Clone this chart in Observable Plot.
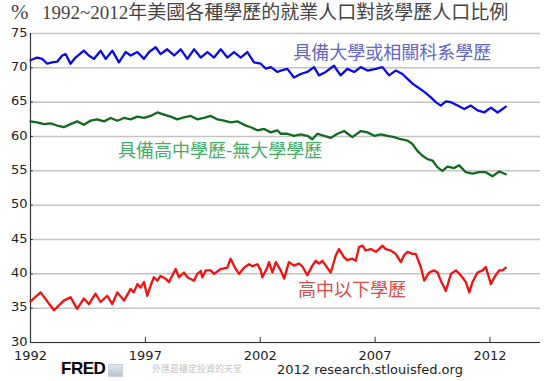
<!DOCTYPE html>
<html>
<head>
<meta charset="utf-8">
<script src="https://cdn.jsdelivr.net/npm/d3@7"></script>
<script src="https://cdn.jsdelivr.net/npm/@observablehq/plot@0.6"></script>
<style>
  body { margin: 0; background: #fff; }
  #wrap { position: relative; width: 554px; height: 381px; background: #fff; overflow: hidden; }
  .abs { position: absolute; white-space: nowrap; }
</style>
</head>
<body>
<div id="wrap">
  <div id="chart"></div>
  <div class="abs" style="left:11px;top:0px;font:21px 'Liberation Serif','Noto Sans CJK TC';color:#444;">%</div>
  <div class="abs" id="title" style="left:42px;top:0px;font:19px 'Liberation Serif','Noto Sans CJK TC';color:#444;line-height:26px;">1992~2012年美國各種學歷的就業人口對該學歷人口比例</div>
  <div class="abs" style="left:61px;top:359px;font:900 17px 'Liberation Sans','DejaVu Sans';color:#000;letter-spacing:-0.5px;">FRED</div>
  <div class="abs" style="left:108px;top:364px;width:13px;height:11px;background:linear-gradient(#dfe6ee,#b9c4cf);border:1px solid #c8d0d8;"></div>
  <div class="abs" style="left:152px;top:362px;font:9px 'Noto Sans CJK TC';color:#c4c4c4;">外匯是穩定投資的天堂</div>
  <div class="abs" style="left:277px;top:362px;font:13px 'DejaVu Sans';color:#222;">2012 research.stlouisfed.org</div>
</div>
<script>
// ---- data ----
const yTicks = [30, 35, 40, 45, 50, 55, 60, 65, 70, 75];
const xTicks = [1992, 1997, 2002, 2007, 2012];

const collegeYears = [1992.00,1992.29,1992.51,1992.73,1992.94,1993.16,1993.38,1993.53,1993.74,1993.96,1994.32,1994.54,1994.76,1995.05,1995.27,1995.56,1995.85,1996.14,1996.36,1996.65,1996.94,1997.16,1997.45,1997.66,1997.95,1998.25,1998.54,1998.83,1999.12,1999.41,1999.70,1999.99,2000.28,2000.57,2000.86,2001.15,2001.44,2001.73,2002.02,2002.24,2002.46,2002.75,2002.89,2003.18,2003.47,2003.76,2004.05,2004.34,2004.56,2004.85,2005.21,2005.50,2005.79,2006.09,2006.38,2006.67,2007.03,2007.32,2007.61,2007.90,2008.19,2008.41,2008.63,2008.84,2009.14,2009.43,2009.64,2009.86,2010.08,2010.30,2010.59,2010.88,2011.17,2011.46,2011.75,2012.04,2012.33,2012.55,2012.69];
const collegeValues = [71.1,71.5,71.3,70.6,70.8,70.9,71.8,72.0,70.6,71.5,72.5,71.8,71.3,72.5,71.3,72.5,70.8,72.3,71.8,72.3,71.3,72.3,73.0,72.0,72.7,71.8,72.7,71.3,72.7,71.5,72.3,71.5,72.7,71.5,72.3,71.5,72.3,70.8,70.6,69.9,70.1,69.4,69.6,69.85,68.6,69.1,69.4,70.1,68.9,69.4,70.3,68.9,69.85,69.4,70.1,69.6,69.85,70.1,68.9,69.6,69.1,68.4,67.7,67.2,66.5,65.7,65.0,64.5,65.1,65.0,64.5,64.0,64.5,63.8,63.5,64.2,63.5,64.0,64.35];

const highSchoolYears = [1992.00,1992.29,1992.58,1992.87,1993.16,1993.45,1993.74,1994.03,1994.32,1994.61,1994.90,1995.20,1995.49,1995.78,1996.07,1996.36,1996.65,1996.94,1997.23,1997.52,1997.81,1998.10,1998.39,1998.68,1998.97,1999.26,1999.55,1999.84,2000.13,2000.42,2000.71,2001.01,2001.30,2001.59,2001.88,2002.17,2002.46,2002.75,2002.89,2003.18,2003.47,2003.76,2004.05,2004.27,2004.49,2004.78,2005.07,2005.36,2005.65,2006.01,2006.38,2006.67,2006.96,2007.25,2007.54,2007.83,2008.12,2008.41,2008.63,2008.84,2009.06,2009.28,2009.50,2009.72,2009.93,2010.15,2010.44,2010.66,2010.95,2011.24,2011.53,2011.82,2012.11,2012.40,2012.69];
const highSchoolValues = [62.2,62.05,61.8,61.9,61.6,61.35,61.8,62.2,61.7,62.3,62.5,62.2,62.7,62.3,62.7,62.5,62.9,62.7,63.0,63.5,63.2,62.9,62.5,62.8,63.0,62.5,62.7,63.0,62.5,62.3,62.05,62.2,61.7,61.35,60.9,61.1,60.6,60.9,60.4,60.4,60.1,60.3,60.1,59.6,60.4,60.1,59.8,60.4,60.8,59.9,60.8,60.6,60.1,60.3,60.1,59.9,59.6,59.4,58.9,57.9,57.2,56.7,56.5,55.5,55.0,55.6,55.4,55.8,54.8,54.6,54.8,54.8,54.2,54.9,54.5];

const lessYears = [1992.00,1992.44,1993.02,1993.45,1993.74,1994.03,1994.32,1994.54,1994.83,1995.05,1995.34,1995.56,1995.78,1996.07,1996.36,1996.50,1996.65,1996.79,1996.94,1997.08,1997.23,1997.37,1997.52,1997.66,1997.88,1998.03,1998.32,1998.46,1998.68,1998.83,1999.12,1999.26,1999.41,1999.48,1999.63,1999.84,1999.99,2000.28,2000.57,2000.71,2000.93,2001.08,2001.30,2001.51,2001.66,2001.88,2002.02,2002.09,2002.31,2002.38,2002.53,2002.68,2002.89,2003.04,2003.25,2003.47,2003.69,2003.83,2004.05,2004.27,2004.42,2004.56,2004.71,2004.85,2005.07,2005.29,2005.43,2005.65,2005.79,2006.01,2006.16,2006.30,2006.45,2006.59,2006.81,2007.03,2007.17,2007.32,2007.46,2007.68,2007.90,2008.12,2008.26,2008.41,2008.63,2008.77,2008.99,2009.14,2009.35,2009.57,2009.72,2009.86,2010.08,2010.30,2010.52,2010.73,2010.95,2011.10,2011.24,2011.46,2011.68,2011.82,2012.04,2012.19,2012.40,2012.55,2012.69];
const lessValues = [36.0,37.3,34.7,36.1,36.6,34.9,36.4,35.6,37.1,35.9,36.8,35.6,37.3,36.1,37.8,37.3,38.5,38.0,38.8,36.8,38.3,39.5,39.0,39.7,39.3,38.8,40.7,39.5,40.2,39.5,39.0,40.0,40.4,39.5,40.5,40.5,40.0,40.7,40.9,42.2,40.7,40.0,40.9,41.4,41.1,41.4,40.5,39.5,40.9,41.7,40.2,41.7,40.5,39.3,41.7,41.2,41.5,41.1,39.8,41.2,41.9,41.5,41.9,41.2,40.2,42.7,43.6,42.4,42.0,42.2,41.9,43.9,44.1,43.4,43.6,43.2,43.6,44.1,43.6,43.4,42.9,41.7,42.7,43.2,42.9,42.9,41.0,39.0,40.2,40.5,40.2,39.0,37.5,40.0,40.5,39.8,38.8,37.3,38.8,40.2,40.5,41.0,38.5,39.5,40.5,40.5,40.9];

const seriesNames = ["具備大學或相關科系學歷", "具備高中學歷-無大學學歷", "高中以下學歷"];
const lineColors = ["#0a0ae6", "#0f6a1e", "#f21010"];
const labelColors = ["#6464cc", "#43ad66", "#de4a4a"];
const labelX = [2007.75, 2000.25, 2006.0];
const labelY = [72.1, 57.8, 37.6];

// ---- build tables ----
const toRows = (xs, vs, name) => xs.map((x, i) => ({year: x, value: vs[i], series: name}));
const rows = [
  ...toRows(collegeYears, collegeValues, seriesNames[0]),
  ...toRows(highSchoolYears, highSchoolValues, seriesNames[1]),
  ...toRows(lessYears, lessValues, seriesNames[2])
];
const labels = seriesNames.map((s, i) => ({series: s, x: labelX[i], y: labelY[i]}));

const chart = Plot.plot({
  width: 554,
  height: 381,
  marginTop: 33,
  marginBottom: 39,
  marginLeft: 30,
  marginRight: 14,
  style: {background: "#fff", fontFamily: "DejaVu Sans"},
  x: {domain: [1992, 2014.2], label: null},
  y: {domain: [30, 75], label: null},
  color: {domain: seriesNames, range: lineColors},
  marks: [
    Plot.gridY(yTicks, {stroke: "#c4c4c4", strokeOpacity: 1, strokeWidth: 1.5}),
    Plot.axisY(yTicks, {tickSize: 0, tickPadding: 3, fontSize: 13, fill: "#222", tickFormat: d => d, dy: -1}),
    Plot.axisX(xTicks, {tickSize: 0, tickPadding: 8, fontSize: 13, fill: "#222", tickFormat: d => String(d)}),
    Plot.ruleX(xTicks.slice(1), {y1: 30, y2: 30.75, stroke: "#333", strokeWidth: 1}),
    Plot.ruleY(yTicks.slice(0, -1), {x1: 1992, x2: 1992.12, stroke: "#333", strokeWidth: 1}),
    Plot.ruleY([30], {stroke: "#333", strokeWidth: 1.2}),
    Plot.ruleX([1992], {stroke: "#333", strokeWidth: 1.2}),
    Plot.line(rows, {x: "year", y: "value", z: "series", stroke: "series", strokeWidth: 2.3, curve: "linear"}),
    Plot.text(labels, {x: "x", y: "y", text: "series", fill: (d, i) => labelColors[i], fontSize: 18, fontFamily: "Noto Sans CJK TC", textAnchor: "middle"})
  ]
});
document.getElementById("chart").appendChild(chart);
</script>
</body>
</html>
